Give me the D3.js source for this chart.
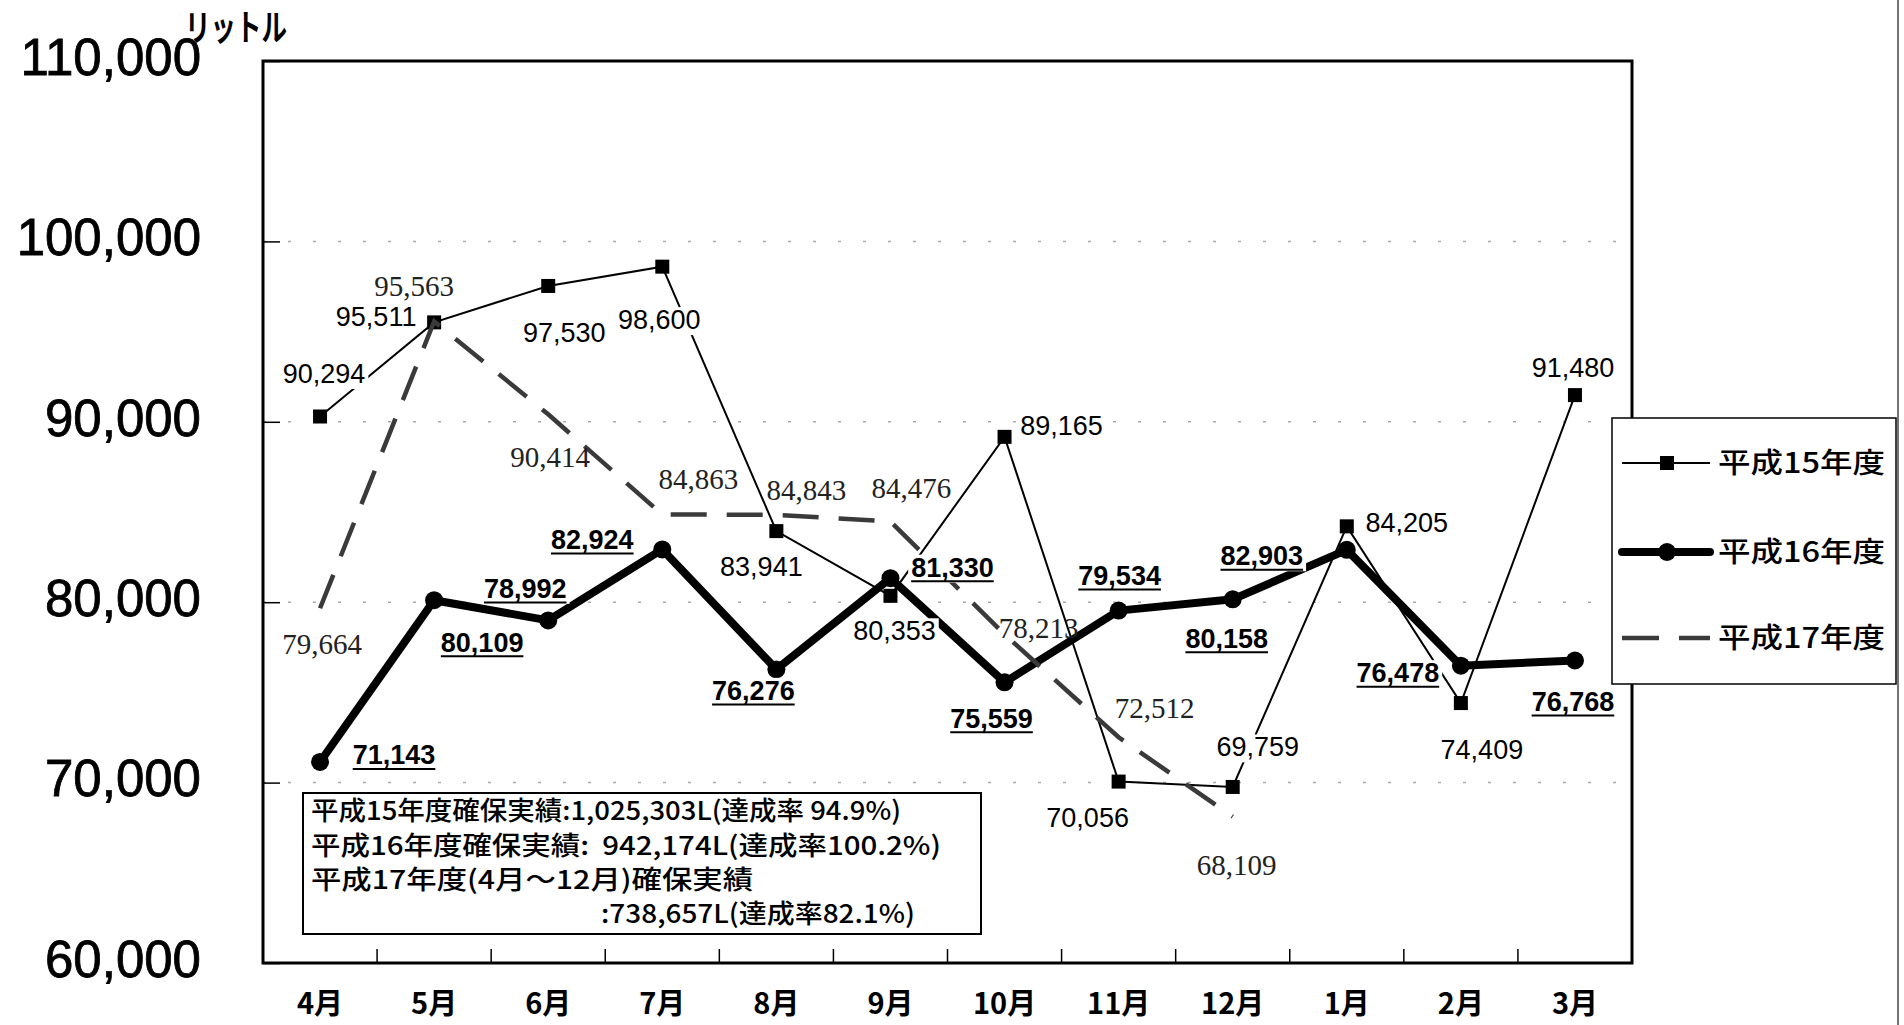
<!DOCTYPE html>
<html>
<head>
<meta charset="utf-8">
<script src="https://cdn.jsdelivr.net/npm/d3@7"></script>
<style>
  body { margin: 0; background: #fff; }
  svg text { white-space: pre; }
</style>
</head>
<body>
<div id="chart"></div>
<script>
// data (litres per month)
const months = ["4月", "5月", "6月", "7月", "8月", "9月", "10月", "11月", "12月", "1月", "2月", "3月"];
const h15 = [90294, 95511, 97530, 98600, 83941, 80353, 89165, 70056, 69759, 84205, 74409, 91480];
const h16 = [71143, 80109, 78992, 82924, 76276, 81330, 75559, 79534, 80158, 82903, 76478, 76768];
const h17 = [79664, 95563, 90414, 84863, 84843, 84476, 78213, 72512, 68109];
const yTicks = [60000, 70000, 80000, 90000, 100000, 110000];
const seriesNames = ["平成15年度", "平成16年度", "平成17年度"];
const unitLabel = "リットル";
const summaryLines = [
  "平成15年度確保実績:1,025,303L(達成率 94.9%)",
  "平成16年度確保実績:  942,174L(達成率100.2%)",
  "平成17年度(4月～12月)確保実績",
  ":738,657L(達成率82.1%)"
];

// where each data label sits relative to its point (layout only)
const off15 = [[4,-43],[-58,-6],[16,47],[-3,53],[-15,35],[4,35],[57,-11],[-31,36],[25,-40],[60,-4],[21,46],[-2,-28]];
const off16 = [[74,-7],[48,42],[-23,-32],[-70,-10],[-23,21],[62,-11],[-13,36],[1,-35],[-6,39],[-85,6],[-63,7],[-2,41]];
const off17 = [[2,36],[-20,-36],[2,43],[36,-36],[30,-25],[21,-34],[34,-7],[36,-29],[4,48]];

const W = 1904, H = 1025;
const margin = { top: 61, right: 272, bottom: 62, left: 263 };
const width = W - margin.left - margin.right,
  height = H - margin.top - margin.bottom;

const svg = d3.select("#chart").append("svg")
  .attr("width", W).attr("height", H);

const xScale = d3.scaleBand().domain(months).range([margin.left, margin.left + width]);
const yScale = d3.scaleLinear().domain([60000, 110000]).range([margin.top + height, margin.top]);
const cx = (i) => xScale(months[i]) + xScale.bandwidth() / 2;

// page edge from the scan
svg.append("line").attr("x1", 1898).attr("x2", 1898).attr("y1", 0).attr("y2", H)
  .attr("stroke", "#444").attr("stroke-width", 1.5);

// faint grid
svg.append("g").selectAll("line").data(yTicks.slice(1, -1)).enter().append("line")
  .attr("x1", margin.left).attr("x2", margin.left + width)
  .attr("y1", d => yScale(d)).attr("y2", d => yScale(d))
  .attr("stroke", "#aaa").attr("stroke-width", 1.5).attr("stroke-dasharray", "3,22");

// y axis labels + inner ticks
const yAxis = d3.axisLeft(yScale).tickValues(yTicks).tickSize(-17).tickPadding(62)
  .tickFormat(d3.format(","));
const yg = svg.append("g").attr("transform", `translate(${margin.left},0)`).call(yAxis);
yg.select(".domain").remove();
yg.selectAll("line").attr("stroke", "#000").attr("stroke-width", 1.5);
yg.selectAll("text").attr("font-family", "Liberation Sans, Arial, sans-serif")
  .attr("font-size", 51).attr("fill", "#000").attr("dy", "0.3em")
  .attr("stroke", "#000").attr("stroke-width", 0.8)
  .attr("transform", "translate(0,-2)");

// x axis: labels under bands, ticks at band boundaries
const xg = svg.append("g").attr("transform", `translate(0,${margin.top + height})`)
  .call(d3.axisBottom(xScale).tickSize(0).tickPadding(30));
xg.select(".domain").remove();
xg.selectAll("text").attr("font-family", "Noto Sans CJK JP, sans-serif")
  .attr("font-size", 29).attr("font-weight", "bold").attr("fill", "#000");
svg.append("g").selectAll("line").data(months.slice(1)).enter().append("line")
  .attr("x1", d => xScale(d)).attr("x2", d => xScale(d))
  .attr("y1", margin.top + height).attr("y2", margin.top + height - 14)
  .attr("stroke", "#000").attr("stroke-width", 1.5);

// plot frame
svg.append("rect").attr("x", margin.left).attr("y", margin.top)
  .attr("width", width).attr("height", height)
  .attr("fill", "none").attr("stroke", "#000").attr("stroke-width", 3);

// unit
svg.append("text").attr("x", 185).attr("y", 41).text(unitLabel)
  .attr("font-family", "Noto Sans CJK JP, sans-serif").attr("font-size", 36)
  .attr("font-weight", "bold")
  .attr("textLength", 102).attr("lengthAdjust", "spacingAndGlyphs");

// lines
const line = d3.line().x((d, i) => cx(i)).y(d => yScale(d));

svg.append("path").datum(h15).attr("d", line)
  .attr("fill", "none").attr("stroke", "#000").attr("stroke-width", 2);
svg.append("g").selectAll("rect").data(h15).enter().append("rect")
  .attr("x", (d, i) => cx(i) - 7).attr("y", d => yScale(d) - 7)
  .attr("width", 14).attr("height", 14).attr("fill", "#000");

svg.append("path").datum(h16).attr("d", line)
  .attr("fill", "none").attr("stroke", "#000").attr("stroke-width", 8)
  .attr("stroke-linejoin", "round");
svg.append("g").selectAll("circle").data(h16).enter().append("circle")
  .attr("cx", (d, i) => cx(i)).attr("cy", d => yScale(d)).attr("r", 9).attr("fill", "#000");

svg.append("path").datum(h17).attr("d", line)
  .attr("fill", "none").attr("stroke", "#3a3a3a").attr("stroke-width", 4.5)
  .attr("stroke-dasharray", "36,20");

// data labels
function addLabels(values, offs, opts) {
  const g = svg.append("g");
  values.forEach((v, i) => {
    const lx = cx(i) + offs[i][0], ly = yScale(v) + offs[i][1];
    const lg = g.append("g");
    const t = lg.append("text").attr("x", lx).attr("y", ly).attr("dy", "0.35em")
      .attr("text-anchor", "middle").text(d3.format(",")(v))
      .attr("font-family", opts.font).attr("font-size", opts.size)
      .attr("font-weight", opts.weight).attr("fill", opts.fill);
    const bb = t.node().getBBox();
    if (opts.bg) {
      lg.insert("rect", "text").attr("x", bb.x - 3).attr("y", bb.y + 2)
        .attr("width", bb.width + 6).attr("height", bb.height - 2).attr("fill", "#fff");
    }
    if (opts.underline) {
      lg.append("line").attr("x1", bb.x).attr("x2", bb.x + bb.width)
        .attr("y1", ly + 14).attr("y2", ly + 14).attr("stroke", "#000").attr("stroke-width", 2);
    }
  });
}
addLabels(h17, off17, { font: "Liberation Serif, serif", size: 29, weight: "normal", fill: "#222", bg: false });
addLabels(h15, off15, { font: "Liberation Sans, Arial, sans-serif", size: 27, weight: "normal", fill: "#000", bg: true });
addLabels(h16, off16, { font: "Liberation Sans, Arial, sans-serif", size: 27, weight: "bold", fill: "#000", bg: true, underline: true });

// summary box
svg.append("rect").attr("x", 303).attr("y", 793).attr("width", 678).attr("height", 141)
  .attr("fill", "#fff").attr("stroke", "#000").attr("stroke-width", 2);
const sumX = [311, 311, 311, 601], sumY = [811, 846, 880, 914], sumW = [590, 630, 442, 314];
svg.append("g").selectAll("text").data(summaryLines).enter().append("text")
  .attr("x", (d, i) => sumX[i]).attr("y", (d, i) => sumY[i]).attr("dy", "0.36em")
  .text(d => d)
  .attr("font-family", "Noto Sans CJK JP, sans-serif").attr("font-size", 26)
  .attr("font-weight", 500).attr("fill", "#000")
  .attr("textLength", (d, i) => sumW[i]).attr("lengthAdjust", "spacingAndGlyphs");

// legend
const lgX = 1612, lgY = 418;
const legend = svg.append("g");
legend.append("rect").attr("x", lgX).attr("y", lgY).attr("width", 284).attr("height", 266)
  .attr("fill", "#fff").attr("stroke", "#000").attr("stroke-width", 1.5);
const rowY = [463, 552, 638];
seriesNames.forEach((name, i) => {
  const y = rowY[i];
  const ln = legend.append("line").attr("x1", 1622).attr("x2", 1710).attr("y1", y).attr("y2", y);
  if (i === 0) {
    ln.attr("stroke", "#000").attr("stroke-width", 2);
    legend.append("rect").attr("x", 1660).attr("y", y - 7).attr("width", 14).attr("height", 14);
  } else if (i === 1) {
    ln.attr("stroke", "#000").attr("stroke-width", 8).attr("stroke-linecap", "round");
    legend.append("circle").attr("cx", 1667).attr("cy", y).attr("r", 9);
  } else {
    ln.attr("stroke", "#3a3a3a").attr("stroke-width", 4.5).attr("stroke-dasharray", "37,20");
  }
  legend.append("text").attr("x", 1718).attr("y", y).attr("dy", "0.36em").text(name)
    .attr("font-family", "Noto Sans CJK JP, sans-serif").attr("font-size", 28)
    .attr("font-weight", 500)
    .attr("textLength", 167).attr("lengthAdjust", "spacingAndGlyphs");
});
</script>
</body>
</html>
